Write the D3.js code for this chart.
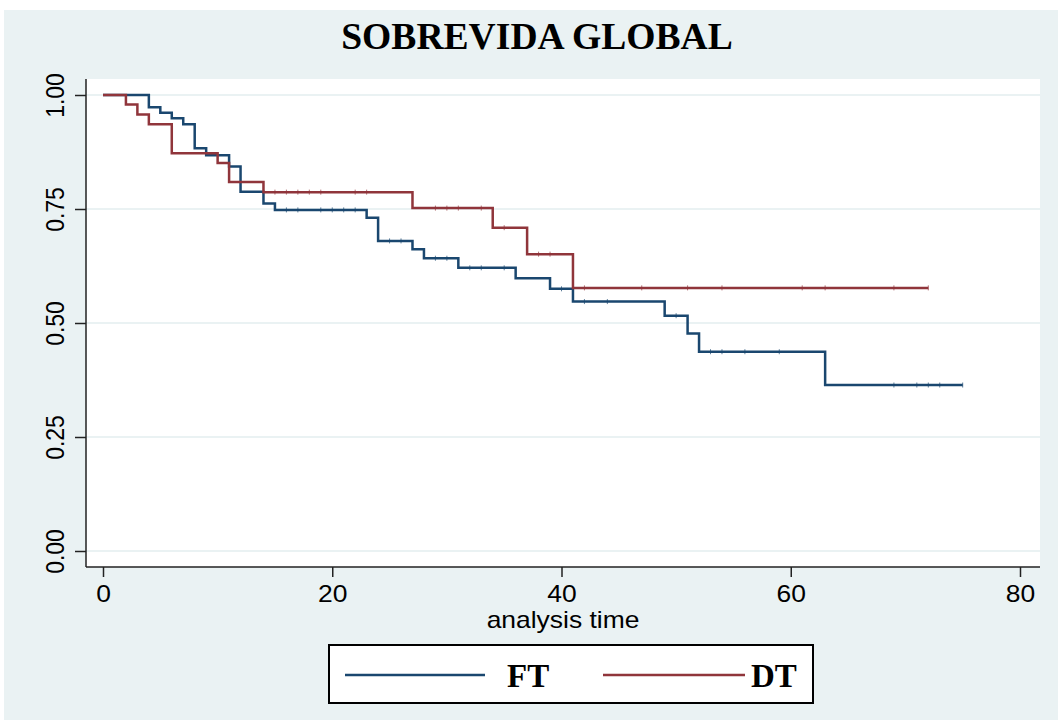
<!DOCTYPE html>
<html>
<head>
<meta charset="utf-8">
<script src="https://cdn.jsdelivr.net/npm/d3@7"></script>
<style>
  html, body { margin: 0; padding: 0; background: #fff; }
  svg { display: block; }
</style>
</head>
<body>
<div id="chart"></div>
<script>
// --- DATA ---
const chartTitle = "SOBREVIDA GLOBAL";
const xLabel = "analysis time";
const groups = ["FT", "DT"];

// FT: event times and survival after each step
const ftTimes = [0, 4, 5, 6, 7, 8, 9, 11, 12, 14, 15, 23, 24, 27, 28, 31, 36, 39, 41, 49, 51, 52, 63];
const ftSurv  = [1, 0.973, 0.961, 0.949, 0.936, 0.883, 0.868, 0.843, 0.788, 0.762, 0.748, 0.731, 0.680, 0.662, 0.642, 0.621, 0.598, 0.575, 0.547, 0.516, 0.477, 0.437, 0.364];
const ftEnd = 75;
const ftCensored = [16, 17, 19, 20, 21, 22, 25, 26, 29, 30, 32, 33, 35, 40, 42, 44, 50, 53, 54, 56, 59, 69, 71, 72, 73, 75];

// DT
const dtTimes = [0, 2, 3, 4, 6, 10, 11, 14, 27, 34, 37, 41];
const dtSurv  = [1, 0.979, 0.957, 0.936, 0.872, 0.851, 0.809, 0.787, 0.752, 0.709, 0.651, 0.577];
const dtEnd = 72;
const dtCensored = [15, 16, 17, 18, 19, 22, 23, 29, 30, 31, 33, 35, 38, 39, 42, 47, 51, 54, 61, 63, 69, 72];

const xTicks = [0, 20, 40, 60, 80];
const yTicks = [0, 0.25, 0.5, 0.75, 1];

// --- LAYOUT ---
const width = 1058, height = 721;
const plot = { left: 86, right: 1040, top: 79, bottom: 567 };
const colors = { FT: "#1a476f", DT: "#90353b" };
const bg = "#eaf2f3";
const sans = "'Liberation Sans', Arial, sans-serif";
const serif = "'Liberation Serif', 'Times New Roman', serif";
const stretch = 1.15; // the source graph is a bit wider than tall

const svg = d3.select("#chart").append("svg")
    .attr("width", width).attr("height", height);

// graph region
svg.append("rect")
    .attr("x", 4).attr("y", 10)
    .attr("width", width - 4).attr("height", height - 11)
    .attr("fill", bg);

// plot region
svg.append("rect")
    .attr("x", plot.left).attr("y", plot.top)
    .attr("width", plot.right - plot.left).attr("height", plot.bottom - plot.top)
    .attr("fill", "#fff");

// Scales
const xScale = d3.scaleLinear().domain([0, 80]).range([103, 1020]);
const yScale = d3.scaleLinear().domain([0, 1]).range([551, 95]);

// Grid lines
svg.append("g").selectAll("line")
    .data(yTicks).enter().append("line")
    .attr("x1", plot.left).attr("x2", plot.right)
    .attr("y1", d => yScale(d)).attr("y2", d => yScale(d))
    .attr("stroke", bg).attr("stroke-width", 2);

// Y axis
const yAxis = svg.append("g")
    .attr("transform", `translate(${plot.left},0)`)
    .call(d3.axisLeft(yScale).tickValues(yTicks).tickFormat(d3.format(".2f")).tickSize(11).tickPadding(0));
yAxis.select(".domain").attr("d", `M0,${plot.top}V${plot.bottom}`).attr("stroke", "#222").attr("stroke-width", 1.5);
yAxis.selectAll(".tick line").attr("stroke", "#222").attr("stroke-width", 1.5);
yAxis.selectAll(".tick text")
    .attr("transform", `translate(-22,0) scale(${stretch},1) rotate(-90)`)
    .attr("x", 0).attr("y", 0).attr("dy", 0)
    .attr("text-anchor", "middle")
    .style("font-family", sans)
    .style("font-size", "23px")
    .attr("fill", "#000");

// X axis
const xAxis = svg.append("g")
    .attr("transform", `translate(0,${plot.bottom})`)
    .call(d3.axisBottom(xScale).tickValues(xTicks).tickSize(10).tickPadding(0));
xAxis.select(".domain").attr("d", `M${plot.left},0H${plot.right}`).attr("stroke", "#222").attr("stroke-width", 1.5);
xAxis.selectAll(".tick line").attr("stroke", "#222").attr("stroke-width", 1.5);
xAxis.selectAll(".tick text")
    .attr("transform", `translate(0,35) scale(${stretch},1)`)
    .attr("y", 0).attr("dy", 0)
    .style("font-family", sans)
    .style("font-size", "23px")
    .attr("fill", "#000");

svg.append("text")
    .attr("transform", `translate(${(plot.left + plot.right) / 2},628) scale(${stretch},1)`)
    .attr("text-anchor", "middle")
    .style("font-family", sans)
    .style("font-size", "23px")
    .text(xLabel);

// Title
svg.append("text")
    .attr("x", 537).attr("y", 49)
    .attr("text-anchor", "middle")
    .style("font-family", serif)
    .style("font-weight", "bold")
    .style("font-size", "37.6px")
    .text(chartTitle);

// --- SURVIVAL CURVES ---
const series = [
    { name: "FT", times: ftTimes, surv: ftSurv, end: ftEnd, cens: ftCensored },
    { name: "DT", times: dtTimes, surv: dtSurv, end: dtEnd, cens: dtCensored }
];

const stepLine = d3.line()
    .x(d => xScale(d[0]))
    .y(d => yScale(d[1]))
    .curve(d3.curveStepAfter);

function survAt(s, t) {
    const i = d3.bisectRight(s.times, t) - 1;
    return s.surv[Math.max(0, i)];
}

series.forEach(s => {
    const pts = s.times.map((t, i) => [t, s.surv[i]]);
    pts.push([s.end, s.surv[s.surv.length - 1]]);

    svg.append("path")
        .attr("d", stepLine(pts))
        .attr("fill", "none")
        .attr("stroke", colors[s.name])
        .attr("stroke-width", 2.5);

    // censor marks (small, barely visible in the source)
    svg.append("g").selectAll("line")
        .data(s.cens).enter().append("line")
        .attr("x1", d => xScale(d)).attr("x2", d => xScale(d))
        .attr("y1", d => yScale(survAt(s, d)) - 2.5)
        .attr("y2", d => yScale(survAt(s, d)) + 2.5)
        .attr("stroke", colors[s.name])
        .attr("stroke-opacity", 0.7)
        .attr("stroke-width", 1);
});

// --- LEGEND ---
const legend = svg.append("g");
legend.append("rect")
    .attr("x", 329).attr("y", 645)
    .attr("width", 484).attr("height", 58)
    .attr("fill", "#fff").attr("stroke", "#000").attr("stroke-width", 2);

const legendItems = [
    { name: "FT", x1: 345, x2: 485, tx: 507 },
    { name: "DT", x1: 603, x2: 745, tx: 751 }
];
legendItems.forEach(it => {
    legend.append("line")
        .attr("x1", it.x1).attr("x2", it.x2)
        .attr("y1", 675).attr("y2", 675)
        .attr("stroke", colors[it.name]).attr("stroke-width", 2.5);
    legend.append("text")
        .attr("x", it.tx).attr("y", 687)
        .style("font-family", serif)
        .style("font-weight", "bold")
        .style("font-size", "33px")
        .text(it.name);
});
</script>
</body>
</html>
